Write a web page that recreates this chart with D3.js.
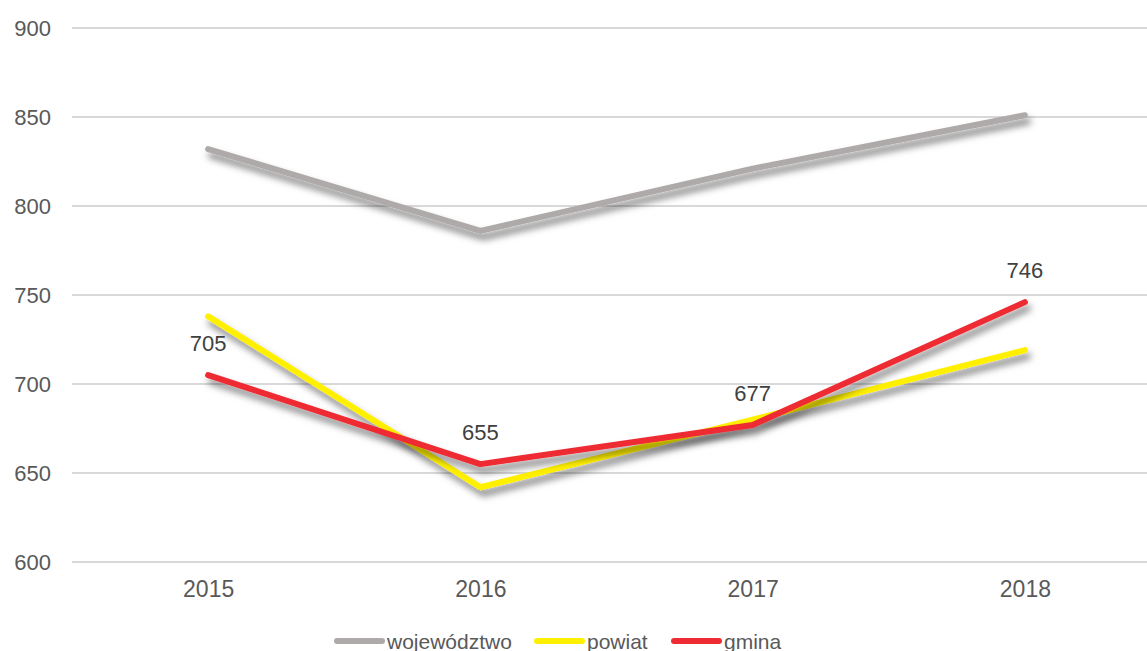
<!DOCTYPE html>
<html lang="pl">
<head>
<meta charset="utf-8">
<script src="https://d3js.org/d3.v7.min.js"></script>
<style>
  body { margin: 0; background: #fff; }
  svg { display: block; font-family: "Liberation Sans", Arial, sans-serif; }
</style>
</head>
<body>
<script>
// data
const years = ["2015", "2016", "2017", "2018"];
const wojewodztwo = [832, 786, 821, 851];
const powiat = [738, 642, 680, 719];
const gmina = [705, 655, 677, 746];
const yTicks = [600, 650, 700, 750, 800, 850, 900];

const series = [
  {name: "województwo", values: wojewodztwo, color: "#aeaaaa"},
  {name: "powiat", values: powiat, color: "#fff000"},
  {name: "gmina", values: gmina, color: "#ee2b32"}
];

const width = 1147, height = 651;
const margin = {top: 28, right: -14, bottom: 89, left: 72};

const svg = d3.select("body").append("svg")
  .attr("width", width)
  .attr("height", height);

// soft drop shadow like the office chart
const defs = svg.append("defs");
defs.append("filter")
  .attr("id", "shadow")
  .attr("x", "-20%").attr("y", "-20%")
  .attr("width", "140%").attr("height", "160%")
  .append("feDropShadow")
  .attr("dx", 3).attr("dy", 6)
  .attr("stdDeviation", 3.5)
  .attr("flood-color", "#000")
  .attr("flood-opacity", 0.5);

const x = d3.scalePoint()
  .domain(years)
  .range([margin.left, width - margin.right])
  .padding(0.5);

const y = d3.scaleLinear()
  .domain([600, 900])
  .range([height - margin.bottom, margin.top]);

// gridlines
svg.append("g")
  .selectAll("line")
  .data(yTicks)
  .join("line")
  .attr("x1", margin.left)
  .attr("x2", width)
  .attr("y1", d => y(d))
  .attr("y2", d => y(d))
  .attr("stroke", "#d9d9d9")
  .attr("stroke-width", 2);

// y axis labels
const yAxis = svg.append("g")
  .attr("transform", `translate(${margin.left},0)`)
  .call(d3.axisLeft(y).tickValues(yTicks).tickSize(0).tickPadding(21));
yAxis.select(".domain").remove();
yAxis.selectAll("text")
  .attr("fill", "#595959")
  .style("font-size", "22px")
  .style("font-family", "Liberation Sans, Arial, sans-serif");

// x axis labels
const xAxis = svg.append("g")
  .attr("transform", `translate(0,${height - margin.bottom})`)
  .call(d3.axisBottom(x).tickSize(0).tickPadding(19));
xAxis.select(".domain").remove();
xAxis.selectAll("text")
  .attr("fill", "#595959")
  .style("font-size", "23px")
  .style("font-family", "Liberation Sans, Arial, sans-serif");

const line = d3.line()
  .x((d, i) => x(years[i]))
  .y(d => y(d));

svg.append("g")
  .selectAll("path")
  .data(series)
  .join("path")
  .attr("d", d => line(d.values))
  .attr("fill", "none")
  .attr("stroke", d => d.color)
  .attr("stroke-width", 6)
  .attr("stroke-linecap", "round")
  .attr("stroke-linejoin", "round")
  .attr("filter", "url(#shadow)");

// data labels for gmina
svg.append("g")
  .selectAll("text")
  .data(gmina)
  .join("text")
  .attr("x", (d, i) => x(years[i]))
  .attr("y", d => y(d) - 24)
  .attr("text-anchor", "middle")
  .attr("fill", "#404040")
  .style("font-size", "22px")
  .text(d => d);

// legend (bottom edge cuts it like in the original)
const legendItems = [
  {s: series[0], x: 337},
  {s: series[1], x: 537},
  {s: series[2], x: 674}
];
const legendY = 641;
const lg = svg.append("g");
legendItems.forEach(item => {
  lg.append("line")
    .attr("x1", item.x).attr("x2", item.x + 45)
    .attr("y1", legendY).attr("y2", legendY)
    .attr("stroke", item.s.color)
    .attr("stroke-width", 6)
    .attr("stroke-linecap", "round");
  lg.append("text")
    .attr("x", item.x + 50)
    .attr("y", legendY + 8)
    .attr("fill", "#595959")
    .style("font-size", "21px")
    .text(item.s.name);
});
</script>
</body>
</html>
